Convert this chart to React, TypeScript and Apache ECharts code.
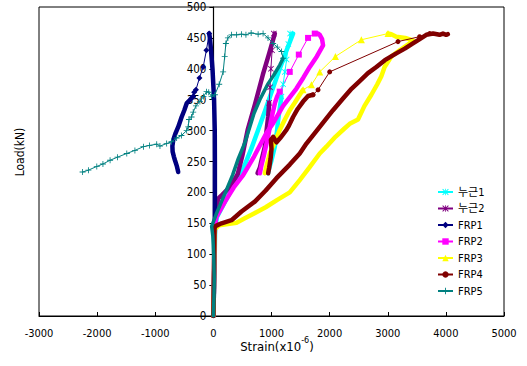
import React, { useEffect, useRef } from 'react';
import * as echarts from 'echarts';

type P = [number, number];

const FONT = "'Liberation Sans Narrow', 'DejaVu Sans Condensed', 'Liberation Sans', Arial, 'Noto Sans CJK KR', sans-serif";

const legendNames = ['누근1', '누근2', 'FRP1', 'FRP2', 'FRP3', 'FRP4', 'FRP5'];
const colors = ['#00FFFF', '#800080', '#000080', '#FF00FF', '#FFFF00', '#800000', '#008080'];

const xMin = -3000, xMax = 5000, xStep = 1000;
const yMin = 0, yMax = 500, yStep = 50;

// 누근1 (cyan)
const c1Main: P[] = [[0,0],[10,40],[20,80],[25,110],[30,140],[60,160],[200,185],[370,215],[520,240],[650,270],[770,301],[900,335],[1030,370],[1142,400],[1260,430],[1371,457]];
const c1Thin: P[] = [[1171,355],[1200,375],[1230,395],[1260,415],[1290,440],[1320,457]];
const c1Second: P[] = [[940,231],[970,242],[1000,252],[1057,274],[1090,295],[1114,317],[1140,335],[1171,355]];

// 누근2 (purple)
const c2Main: P[] = [[0,0],[10,40],[15,80],[20,120],[30,150],[60,178],[82,190],[150,196],[300,210],[420,230],[500,260],[590,301],[720,344],[850,390],[960,425],[1057,457]];
const c2Thin: P[] = [[960,345],[975,370],[990,400],[1010,430],[1040,457]];
const c2Second: P[] = [[760,231],[800,240],[828,252],[885,274],[915,300],[942,322],[960,345]];

// FRP1 (navy)
const f1Main: P[] = [[0,0],[10,50],[20,100],[25,150],[26,200],[26,250],[24,300],[12,350],[-14,398],[-40,430],[-60,450],[-72,457]];
const f1Thin: P[] = [[-72,457],[-120,430],[-175,403],[-240,385],[-300,366],[-330,362],[-347,355]];
const f1Second: P[] = [[-347,355],[-400,350],[-460,344],[-500,333],[-546,322],[-605,306],[-650,296],[-690,285],[-705,275],[-701,266],[-680,258],[-661,252],[-630,243],[-605,233]];

// FRP2 (magenta)
const f2Main: P[] = [[0,0],[10,50],[15,100],[20,140],[50,160],[200,185],[350,208],[512,228],[700,258],[913,296],[1028,312],[1200,340],[1429,368],[1550,386],[1658,403],[1780,420],[1887,438],[1870,448],[1830,455],[1801,457],[1744,457]];
const f2Thin: P[] = [[1744,457],[1629,450],[1470,423],[1314,395],[1142,363]];
const f2Second: P[] = [[1142,363],[1100,356],[1060,345],[1000,320],[940,290],[870,260],[830,245],[800,231]];

// FRP3 (yellow)
const f3Main: P[] = [[0,0],[10,50],[15,100],[20,140],[100,147],[250,149],[398,151],[541,158],[700,166],[900,176],[1100,188],[1314,200],[1486,220],[1650,240],[1830,263],[1944,274],[2100,290],[2250,303],[2345,311],[2488,318],[2600,340],[2718,358],[2820,375],[2890,388],[2946,403],[3061,420],[3204,430],[3376,441],[3430,446],[3300,450],[3147,452],[3061,456],[3004,457]];
const f3Thin: P[] = [[3004,457],[2546,447],[2100,420],[1830,395],[1687,374],[1543,366]];
const f3Second: P[] = [[1543,366],[1486,358],[1400,345],[1314,333],[1230,318],[1142,301],[1050,280],[971,263],[920,245],[885,231]];

// FRP4 (brown)
const f4Main: P[] = [[0,0],[8,50],[12,100],[20,140],[26,145],[141,150],[312,155],[484,169],[713,185],[900,203],[1086,223],[1314,245],[1486,263],[1601,279],[1830,306],[2058,333],[2230,352],[2380,368],[2517,380],[2660,393],[2804,403],[2950,414],[3147,425],[3300,433],[3433,441],[3550,448],[3663,455],[3780,457],[3891,455],[3950,457],[4006,455],[4034,456]];
const f4Thin: P[] = [[3720,457],[3548,452],[3176,444],[2001,395],[1801,366],[1715,358]];
const f4Second: P[] = [[1715,358],[1629,356],[1543,347],[1450,335],[1371,322],[1300,308],[1257,301],[1150,288],[1086,281],[1030,290],[990,285],[1000,270],[985,255],[960,240],[942,231]];

// FRP5 (teal)
const f5Main: P[] = [[0,0],[10,30],[15,60],[5,100],[-10,130],[-30,145],[50,165],[198,198],[330,228],[430,255],[540,280],[627,306],[700,328],[799,350],[870,363],[942,376],[1040,390],[1142,406],[1200,417]];
const f5Thin: P[] = [[1200,417],[1171,428],[1100,435],[1028,441],[940,450],[855,457],[770,456],[650,458],[560,455],[484,456],[400,455],[312,455],[250,450],[215,441],[195,420],[168,395],[100,375],[26,358],[-31,355],[-80,362],[-117,363],[-170,355],[-232,347],[-300,340],[-347,330],[-375,322],[-420,318],[-433,306],[-460,300],[-550,292],[-632,288],[-720,282],[-804,279],[-919,275],[-975,278],[-1100,276],[-1203,274],[-1350,268],[-1490,263],[-1650,257],[-1777,252],[-1900,246],[-2006,242],[-2150,236],[-2250,233]];

const SYM_AST = 'path://M1,0L5,4L9,0L10,1L6,5L10,9L9,10L5,6L1,10L0,9L4,5L0,1ZM4.4,0H5.6V10H4.4Z';
const SYM_PLUS = 'path://M4.3,0H5.7V4.3H10V5.7H5.7V10H4.3V5.7H0V4.3H4.3Z';

const GRID_LEFT = 39, GRID_RIGHT = 23;
const PLOT_W = 527 - GRID_LEFT - GRID_RIGHT;

function thin(name: string, color: string, symbol: string, size: number, data: P[]) {
  return {
    name, type: 'line', data, symbol, symbolSize: size, showSymbol: true,
    lineStyle: { color, width: 1 }, itemStyle: { color, borderWidth: 0 },
    emphasis: { disabled: true }, silent: true,
  };
}
function thick(name: string, color: string, data: P[], width: number) {
  return {
    name, type: 'line', data, symbol: 'none', showSymbol: false,
    lineStyle: { color, width, cap: 'round', join: 'round' }, itemStyle: { color },
    emphasis: { disabled: true }, silent: true,
  };
}

export default function App() {
  const ref = useRef<HTMLDivElement>(null);
  useEffect(() => {
    if (!ref.current) return;
    const chart = echarts.init(ref.current, null, { renderer: 'svg' });
    const series: any[] = [
      thin(legendNames[0], colors[0], SYM_AST, 6, c1Thin),
      thick(legendNames[0], colors[0], c1Main, 4.5),
      thick(legendNames[0], colors[0], c1Second, 4.5),
      thin(legendNames[1], colors[1], SYM_AST, 6, c2Thin),
      thick(legendNames[1], colors[1], c2Main, 4.5),
      thick(legendNames[1], colors[1], c2Second, 4.5),
      thin(legendNames[2], colors[2], 'diamond', 6, f1Thin),
      thick(legendNames[2], colors[2], f1Main, 4.5),
      thick(legendNames[2], colors[2], f1Second, 4.5),
      thin(legendNames[3], colors[3], 'rect', 6, f2Thin),
      thick(legendNames[3], colors[3], f2Main, 4.5),
      thick(legendNames[3], colors[3], f2Second, 4.5),
      thin(legendNames[4], colors[4], 'triangle', 7, f3Thin),
      thick(legendNames[4], colors[4], f3Main, 4.5),
      thick(legendNames[4], colors[4], f3Second, 4.5),
      thin(legendNames[5], colors[5], 'circle', 5, f4Thin),
      thick(legendNames[5], colors[5], f4Main, 4.5),
      thick(legendNames[5], colors[5], f4Second, 4.5),
      thin(legendNames[6], colors[6], SYM_PLUS, 6, f5Thin),
      thick(legendNames[6], colors[6], f5Main, 3.5),
    ];
    const zeroOffset = (0 - xMin) / (xMax - xMin) * PLOT_W;
    chart.setOption({
      animation: false,
      backgroundColor: '#fff',
      grid: { left: GRID_LEFT, right: GRID_RIGHT, top: 7, bottom: 50, show: true, borderColor: '#000', borderWidth: 1, backgroundColor: 'transparent' },
      xAxis: {
        type: 'value', min: xMin, max: xMax, interval: xStep,
        axisLine: { onZero: false, lineStyle: { color: '#000', width: 1 } },
        axisTick: { inside: true, length: 4, lineStyle: { color: '#000' } },
        axisLabel: { margin: 12, fontSize: 11, color: '#000', fontFamily: FONT, formatter: (v: number) => String(v) },
        splitLine: { show: false },
      },
      yAxis: {
        type: 'value', min: yMin, max: yMax, interval: yStep,
        position: 'left', offset: -zeroOffset,
        axisLine: { show: true, onZero: false, lineStyle: { color: '#000', width: 1.2 } },
        axisTick: { show: true, inside: false, length: 4, lineStyle: { color: '#000' } },
        axisLabel: { margin: 7, fontSize: 11.5, color: '#000', fontFamily: FONT, formatter: (v: number) => String(v) },
        splitLine: { show: false },
      },
      legend: {
        orient: 'vertical', left: 432, top: 181, itemWidth: 15, itemHeight: 8, itemGap: 4.5,
        data: legendNames,
        textStyle: { fontSize: 11, color: '#000', fontFamily: FONT, lineHeight: 12 },
        selectedMode: false,
      },
      graphic: [
        {
          type: 'text', x: 19.5, y: 152, rotation: Math.PI / 2,
          style: { text: 'Load(kN)', fontSize: 12, fontFamily: FONT, fill: '#000', align: 'center', verticalAlign: 'middle' },
        },
        {
          type: 'text', x: 277, y: 344,
          style: {
            text: '{n|Strain(x10}{s|-6}{n|)}', align: 'center', verticalAlign: 'middle', fill: '#000',
            rich: {
              n: { fontSize: 13, fontFamily: FONT, verticalAlign: 'bottom', lineHeight: 18 },
              s: { fontSize: 9, fontFamily: FONT, verticalAlign: 'top', lineHeight: 18 },
            },
          },
        },
      ],
      series,
    });
    return () => chart.dispose();
  }, []);
  return <div ref={ref} style={{ position: 'fixed', left: 0, top: 0, width: 527, height: 366 }} />;
}
